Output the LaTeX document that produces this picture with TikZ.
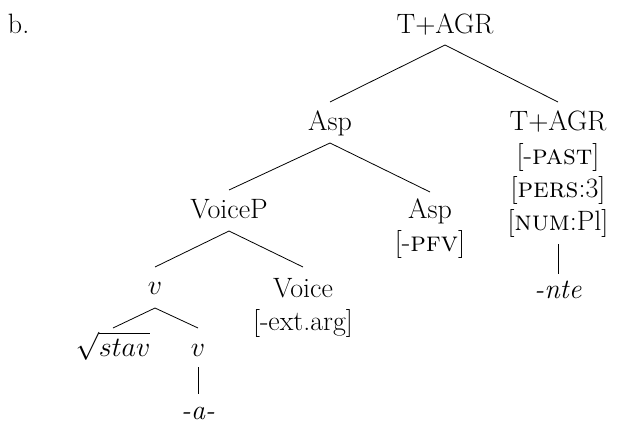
\RequirePackage{fix-cm}
\documentclass[tikz,border=0pt]{standalone}
\usetikzlibrary{calc}
\begin{document}
\begin{tikzpicture}[x=1pt,y=-1pt,
  lab/.style={inner sep=0pt, outer sep=0pt, anchor=base, font=\fontsize{28}{33}\selectfont},
  edge/.style={line width=0.8pt}]
\useasboundingbox (0,0) rectangle (617,423);
% labels
\node[lab, anchor=base west] (b) at (8,33) {b.};
\node[lab] (top) at (445,33) {T+AGR};
\node[lab] (asp) at (330,130) {Asp};
\node[lab] (tagr) at (558,130) {T+AGR};
\node[lab] (past) at (558,164) {[-\textsc{past}]};
\node[lab] (pers) at (558,197) {[\textsc{pers}:3]};
\node[lab] (num) at (558,230) {[\textsc{num}:Pl]};
\node[lab] (nte) at (558,298) {\textit{-nte}};
\node[lab] (voicep) at (229,218) {VoiceP};
\node[lab] (asp2) at (430,218) {Asp};
\node[lab] (pfv) at (430,251) {[-\textsc{pfv}]};
\node[lab] (v) at (155,294) {$v$};
\node[lab] (voice) at (303,297) {Voice};
\node[lab] (ext) at (303,330) {[-ext.arg]};
\node[lab] (stav) at (113,356) {$\sqrt{stav}$};
\node[lab] (v2) at (198,356) {$v$};
\node[lab] (a) at (198,419) {\textit{-a-}};
% edges
\draw[edge] ($(asp.base)+(0,-28)$) -- ($(top.base)+(0,12)$) -- ($(tagr.base)+(0,-28)$);
\draw[edge] ($(voicep.base)+(0,-28)$) -- ($(asp.base)+(0,13)$) -- ($(asp2.base)+(0,-26)$);
\draw[edge] ($(v.base)+(0,-27)$) -- ($(voicep.base)+(0,13)$) -- ($(voice.base)+(0,-30)$);
\draw[edge] ($(stav.base)+(0,-28)$) -- ($(v.base)+(0,14)$) -- ($(v2.base)+(0,-28)$);
\draw[edge] ($(v2.base)+(0,11)$) -- ($(a.base)+(0,-25)$);
\draw[edge] ($(num.base)+(0,14)$) -- ($(nte.base)+(0,-24)$);
\end{tikzpicture}
\end{document}
